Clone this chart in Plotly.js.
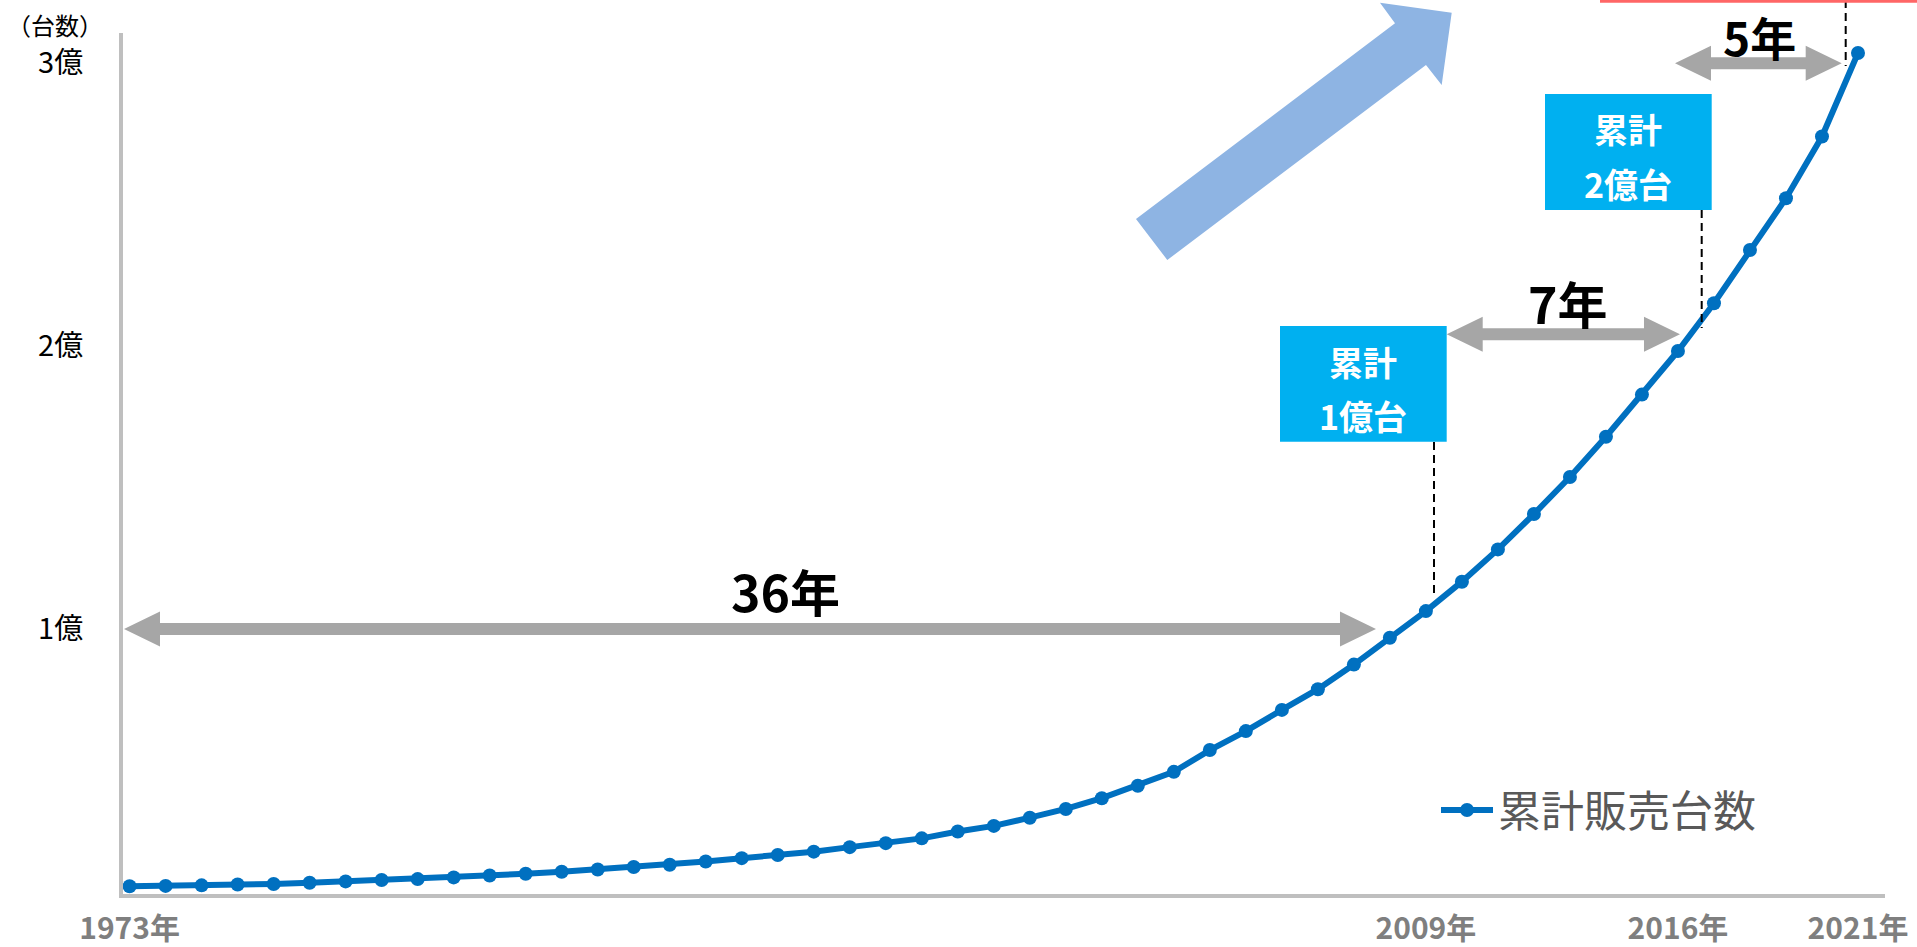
<!DOCTYPE html>
<html>
<head>
<meta charset="utf-8">
<script src="https://cdn.plot.ly/plotly-3.0.1.min.js"></script>
<style>
  html, body { margin: 0; padding: 0; background: #ffffff; }
  #chart { width: 1917px; height: 947px; }
</style>
</head>
<body>
<div id="chart"></div>
<script>
// ---- data (values in 億台, cumulative) ----
const years = [1973, 1974, 1975, 1976, 1977, 1978, 1979, 1980, 1981, 1982,
               1983, 1984, 1985, 1986, 1987, 1988, 1989, 1990, 1991, 1992,
               1993, 1994, 1995, 1996, 1997, 1998, 1999, 2000, 2001, 2002,
               2003, 2004, 2005, 2006, 2007, 2008, 2009, 2010, 2011, 2012,
               2013, 2014, 2015, 2016, 2017, 2018, 2019, 2020, 2021];
const cumulativeSales = [0.090, 0.091, 0.093, 0.096, 0.098, 0.102, 0.107, 0.112, 0.115, 0.121,
                         0.128, 0.134, 0.141, 0.149, 0.158, 0.166, 0.177, 0.189, 0.200, 0.212,
                         0.228, 0.242, 0.259, 0.283, 0.303, 0.332, 0.363, 0.401, 0.445, 0.494,
                         0.571, 0.638, 0.713, 0.786, 0.873, 0.968, 1.062, 1.166, 1.280, 1.405,
                         1.536, 1.678, 1.827, 1.981, 2.150, 2.338, 2.521, 2.739, 3.034];
const seriesName = '累計販売台数';
const xTickVals = [1973, 2009, 2016, 2021];
const xTickText = ['1973年', '2009年', '2016年', '2021年'];
const yTickVals = [1, 2, 3];
const yTickText = ['1億', '2億', '3億'];
const unitLabel = '（台数）';
const spanLabels = ['36年', '7年', '5年'];
const boxLines = [['累計', '1億台'], ['累計', '2億台']];

// ---- layout geometry (pixels) ----
const W = 1917, H = 947;
const L = 123, R = 1885, T = 33, B = 894;
const PW = R - L, PH = B - T;
const px = X => (X - L) / PW;
const py = Y => (B - Y) / PH;
const FONT = '"Noto Sans CJK JP", "Noto Sans", sans-serif';

function poly(pts) {
  return 'M ' + pts.map(p => px(p[0]).toFixed(5) + ',' + py(p[1]).toFixed(5)).join(' L ') + ' Z';
}
function doubleArrow(x1, x2, yc) {
  const hl = 36, hh = 17.5, sh = 6;
  return poly([[x1, yc], [x1 + hl, yc - hh], [x1 + hl, yc - sh], [x2 - hl, yc - sh], [x2 - hl, yc - hh],
               [x2, yc], [x2 - hl, yc + hh], [x2 - hl, yc + sh], [x1 + hl, yc + sh], [x1 + hl, yc + hh]]);
}

const GRAY = '#A6A6A6';
const shapes = [
  // big trend arrow
  {type: 'path', xref: 'paper', yref: 'paper', fillcolor: '#8EB4E3', line: {width: 0},
   path: poly([[1136, 219], [1395, 23.3], [1380, 2.7], [1451.7, 12.7], [1441.7, 85], [1426, 65], [1167.3, 260]])},
  // span arrows
  {type: 'path', xref: 'paper', yref: 'paper', fillcolor: GRAY, line: {width: 0}, path: doubleArrow(124, 1376, 629)},
  {type: 'path', xref: 'paper', yref: 'paper', fillcolor: GRAY, line: {width: 0}, path: doubleArrow(1446.7, 1680, 334.3)},
  {type: 'path', xref: 'paper', yref: 'paper', fillcolor: GRAY, line: {width: 0}, path: doubleArrow(1675, 1841.7, 63.3)},
  // label boxes
  {type: 'rect', xref: 'paper', yref: 'paper', fillcolor: '#00B0F0', line: {width: 0},
   x0: px(1280), x1: px(1446.7), y0: py(441.7), y1: py(326)},
  {type: 'rect', xref: 'paper', yref: 'paper', fillcolor: '#00B0F0', line: {width: 0},
   x0: px(1545), x1: px(1711.7), y0: py(210), y1: py(94)},
  // dashed leader lines
  {type: 'line', xref: 'paper', yref: 'paper', line: {color: '#000000', width: 2, dash: '8px,5px'},
   x0: px(1434), x1: px(1434), y0: py(442), y1: py(597)},
  {type: 'line', xref: 'paper', yref: 'paper', line: {color: '#000000', width: 2, dash: '8px,5px'},
   x0: px(1701.7), x1: px(1701.7), y0: py(210), y1: py(328)},
  {type: 'line', xref: 'paper', yref: 'paper', line: {color: '#000000', width: 2, dash: '8px,5px'},
   x0: px(1845.7), x1: px(1845.7), y0: py(0), y1: py(66)},
  // red rule at top right
  {type: 'rect', xref: 'paper', yref: 'paper', fillcolor: '#FF6666', line: {width: 0},
   x0: px(1600), x1: px(1917), y0: py(2.7), y1: py(0)}
];

function txt(text, X, Y, size, color, bold) {
  return {text: text, xref: 'paper', yref: 'paper', x: px(X), y: py(Y), xanchor: 'center', yanchor: 'middle',
          showarrow: false, font: {family: FONT, size: size, color: color, weight: bold ? 700 : 400}};
}
const annotations = [
  txt(unitLabel, 55, 24, 24, '#000000', false),
  txt(spanLabels[0], 785, 590, 50, '#000000', true),
  txt(spanLabels[1], 1568, 302, 50, '#000000', true),
  txt(spanLabels[2], 1759, 36, 46, '#000000', true),
  txt(boxLines[0][0], 1363, 361.7, 34, '#FFFFFF', true),
  txt(boxLines[0][1], 1363, 415, 34, '#FFFFFF', true),
  txt(boxLines[1][0], 1628.3, 128.3, 34, '#FFFFFF', true),
  txt(boxLines[1][1], 1628.3, 183.3, 34, '#FFFFFF', true)
];

const trace = {
  type: 'scatter', mode: 'lines+markers', name: seriesName,
  x: years, y: cumulativeSales,
  line: {color: '#0070C0', width: 6},
  marker: {color: '#0070C0', size: 14},
  cliponaxis: false
};

const layout = {
  width: W, height: H,
  margin: {l: L, r: W - R, t: T, b: H - B, pad: 0},
  paper_bgcolor: '#FFFFFF', plot_bgcolor: '#FFFFFF',
  font: {family: FONT},
  showlegend: true,
  legend: {x: px(1436), y: py(810), xanchor: 'left', yanchor: 'middle', bgcolor: 'rgba(0,0,0,0)',
           font: {family: FONT, size: 43, color: '#595959'}, itemwidth: 52},
  xaxis: {range: [1972.817, 2021.75], showline: true, linecolor: '#BFBFBF', linewidth: 4,
          showgrid: false, zeroline: false, ticks: '', tickvals: xTickVals, ticktext: xTickText,
          tickfont: {family: FONT, size: 30, color: '#7F7F7F', weight: 700}, ticklabelstandoff: 5},
  yaxis: {range: [0.0624, 3.1048], showline: true, linecolor: '#BFBFBF', linewidth: 4,
          showgrid: false, zeroline: false, ticks: '', tickvals: yTickVals, ticktext: yTickText,
          tickfont: {family: FONT, size: 29, color: '#000000'}, ticklabelstandoff: 30},
  shapes: shapes,
  annotations: annotations
};

Plotly.newPlot('chart', [trace], layout, {displayModeBar: false, staticPlot: true});
</script>
</body>
</html>
